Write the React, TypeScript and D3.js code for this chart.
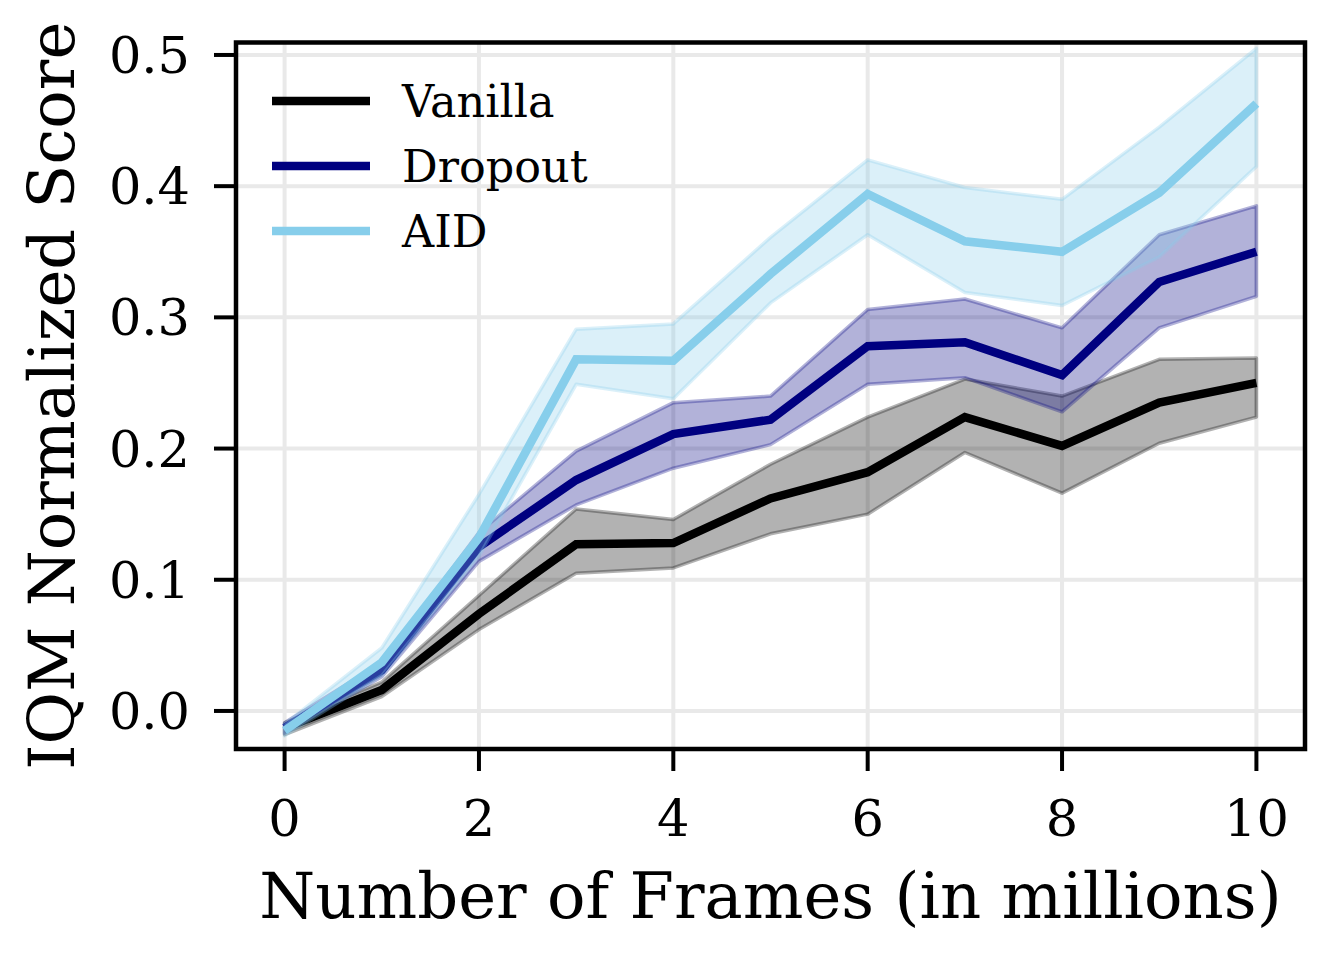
import React from "react";
import * as d3 from "d3";

const frames = [0, 1, 2, 3, 4, 5, 6, 7, 8, 9, 10];

const vanillaMean = [-0.013, 0.016, 0.074, 0.127, 0.128, 0.162, 0.182, 0.224, 0.202, 0.235, 0.25];
const vanillaLow = [-0.018, 0.011, 0.062, 0.105, 0.109, 0.135, 0.15, 0.197, 0.166, 0.204, 0.224];
const vanillaHigh = [-0.009, 0.022, 0.088, 0.154, 0.146, 0.188, 0.224, 0.253, 0.24, 0.268, 0.269];

const dropoutMean = [-0.013, 0.031, 0.125, 0.176, 0.211, 0.222, 0.278, 0.281, 0.256, 0.327, 0.35];
const dropoutLow = [-0.017, 0.026, 0.114, 0.157, 0.185, 0.203, 0.249, 0.254, 0.228, 0.292, 0.316];
const dropoutHigh = [-0.009, 0.037, 0.136, 0.198, 0.235, 0.24, 0.306, 0.314, 0.292, 0.363, 0.385];

const aidMean = [-0.015, 0.037, 0.132, 0.268, 0.267, 0.333, 0.394, 0.358, 0.35, 0.395, 0.463];
const aidLow = [-0.019, 0.027, 0.118, 0.249, 0.238, 0.311, 0.363, 0.319, 0.309, 0.346, 0.415];
const aidHigh = [-0.01, 0.048, 0.165, 0.291, 0.295, 0.361, 0.42, 0.399, 0.39, 0.445, 0.505];

const xTicks = [0, 2, 4, 6, 8, 10];
const yTicks = [0, 0.1, 0.2, 0.3, 0.4, 0.5];

const seriesNames = ["Vanilla", "Dropout", "AID"];
const seriesColors = ["#000000", "#000080", "#87CEEB"];

const FONT = "DejaVu Serif";

export default function App() {
  const left = 236, right = 1305, top = 42.5, bottom = 749;
  const x = d3.scaleLinear().domain([-0.5, 10.5]).range([left, right]);
  const y = d3.scaleLinear().domain([-0.029, 0.5095]).range([bottom, top]);

  const series = [
    { mean: vanillaMean, low: vanillaLow, high: vanillaHigh },
    { mean: dropoutMean, low: dropoutLow, high: dropoutHigh },
    { mean: aidMean, low: aidLow, high: aidHigh },
  ];

  const line = (vals: number[]) =>
    d3.line<number>().x((_, i) => x(frames[i])).y((d) => y(d))(vals) || "";
  const area = (lo: number[], hi: number[]) =>
    (d3
      .area<number>()
      .x((_, i) => x(frames[i]))
      .y0((_, i) => y(lo[i]))
      .y1((_, i) => y(hi[i]))(frames) || "") + "Z";

  return (
    <svg width={1329} height={955} style={{ display: "block", position: "absolute", left: 0, top: 0 }}>
      <rect x={0} y={0} width={1329} height={955} fill="#ffffff" />
      <defs>
        <clipPath id="plotclip">
          <rect x={left} y={top} width={right - left} height={bottom - top} />
        </clipPath>
      </defs>
      {/* grid */}
      <g>
        {xTicks.map((t) => (
          <line key={"gx" + t} x1={x(t)} x2={x(t)} y1={top} y2={bottom} stroke="#e9e9e9" strokeWidth={4} />
        ))}
        {yTicks.map((t) => (
          <line key={"gy" + t} x1={left} x2={right} y1={y(t)} y2={y(t)} stroke="#e9e9e9" strokeWidth={4} />
        ))}
      </g>
      {/* series */}
      <g clipPath="url(#plotclip)">
        {series.map((s, i) => (
          <g key={"s" + i}>
            <path
              d={area(s.low, s.high)}
              fill={seriesColors[i]}
              fillOpacity={0.3}
              stroke={seriesColors[i]}
              strokeOpacity={0.3}
              strokeWidth={3.5}
              strokeLinejoin="round"
            />
            <path
              d={line(s.mean)}
              fill="none"
              stroke={seriesColors[i]}
              strokeWidth={8.5}
              strokeLinejoin="miter"
              strokeLinecap="butt"
            />
          </g>
        ))}
      </g>
      {/* spines */}
      <rect x={left} y={top} width={right - left} height={bottom - top} fill="none" stroke="#000" strokeWidth={4.5} />
      {/* x ticks */}
      {xTicks.map((t) => (
        <g key={"xt" + t}>
          <line x1={x(t)} x2={x(t)} y1={bottom} y2={bottom + 22} stroke="#000" strokeWidth={4} />
          <text x={x(t)} y={836} textAnchor="middle" fontFamily={FONT} fontSize={51} fill="#000">
            {String(t)}
          </text>
        </g>
      ))}
      {/* y ticks */}
      {yTicks.map((t) => (
        <g key={"yt" + t}>
          <line x1={left - 22} x2={left} y1={y(t)} y2={y(t)} stroke="#000" strokeWidth={4} />
          <text x={190} y={y(t) + 18} textAnchor="end" fontFamily={FONT} fontSize={51} fill="#000">
            {t.toFixed(1)}
          </text>
        </g>
      ))}
      {/* axis labels */}
      <text x={(left + right) / 2} y={918} textAnchor="middle" fontFamily={FONT} fontSize={64} fill="#000">
        Number of Frames (in millions)
      </text>
      <text
        transform={`translate(74, ${(top + bottom) / 2}) rotate(-90)`}
        textAnchor="middle"
        fontFamily={FONT}
        fontSize={64}
        fill="#000"
      >
        IQM Normalized Score
      </text>
      {/* legend */}
      {seriesNames.map((n, i) => (
        <g key={"lg" + i}>
          <line x1={272} x2={370} y1={101 + i * 65} y2={101 + i * 65} stroke={seriesColors[i]} strokeWidth={8.5} />
          <text x={402} y={101 + i * 65 + 16} fontFamily={FONT} fontSize={44.5} fill="#000">
            {n}
          </text>
        </g>
      ))}
    </svg>
  );
}
